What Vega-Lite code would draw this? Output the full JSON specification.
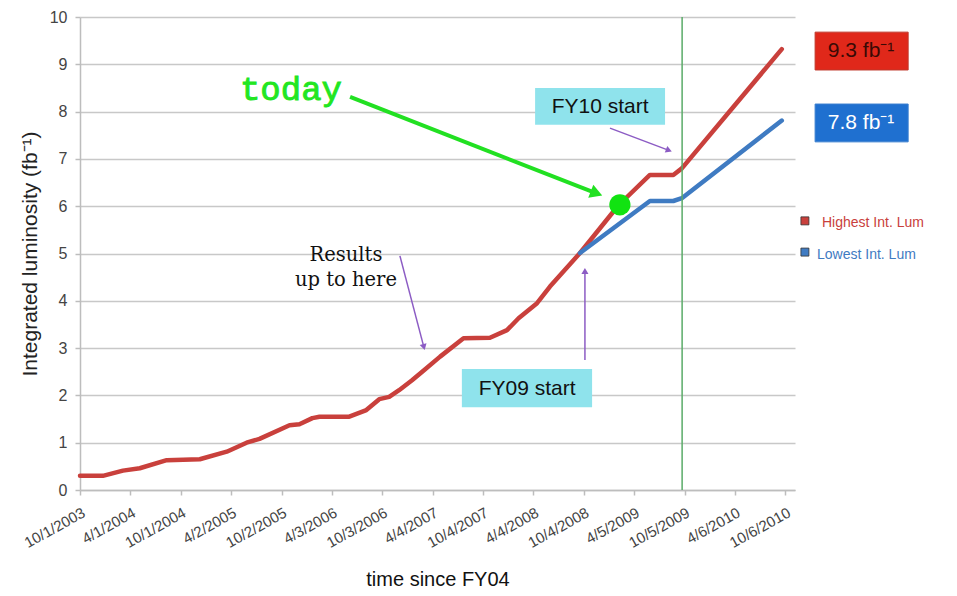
{
  "$schema": "https://vega.github.io/schema/vega-lite/v6.json",
  "width": 715,
  "height": 473,
  "autosize": {"type": "none"},
  "padding": {"left": 80, "top": 17, "right": 162, "bottom": 106},
  "background": "white",
  "config": {
    "view": {"stroke": null},
    "font": "Liberation Sans",
    "text": {"font": "Liberation Sans"}
  },
  "datasets": {
    "lum": [
      {"d": "2003-10-01", "v": 0.30, "s": "Highest Int. Lum"},
      {"d": "2003-12-23", "v": 0.30, "s": "Highest Int. Lum"},
      {"d": "2004-03-05", "v": 0.41, "s": "Highest Int. Lum"},
      {"d": "2004-05-05", "v": 0.46, "s": "Highest Int. Lum"},
      {"d": "2004-08-11", "v": 0.63, "s": "Highest Int. Lum"},
      {"d": "2004-12-09", "v": 0.65, "s": "Highest Int. Lum"},
      {"d": "2005-03-17", "v": 0.81, "s": "Highest Int. Lum"},
      {"d": "2005-05-28", "v": 1.00, "s": "Highest Int. Lum"},
      {"d": "2005-07-14", "v": 1.08, "s": "Highest Int. Lum"},
      {"d": "2005-10-31", "v": 1.37, "s": "Highest Int. Lum"},
      {"d": "2005-12-06", "v": 1.39, "s": "Highest Int. Lum"},
      {"d": "2006-01-22", "v": 1.52, "s": "Highest Int. Lum"},
      {"d": "2006-02-17", "v": 1.55, "s": "Highest Int. Lum"},
      {"d": "2006-06-05", "v": 1.55, "s": "Highest Int. Lum"},
      {"d": "2006-08-06", "v": 1.69, "s": "Highest Int. Lum"},
      {"d": "2006-09-22", "v": 1.92, "s": "Highest Int. Lum"},
      {"d": "2006-10-28", "v": 1.97, "s": "Highest Int. Lum"},
      {"d": "2006-12-03", "v": 2.11, "s": "Highest Int. Lum"},
      {"d": "2007-01-19", "v": 2.32, "s": "Highest Int. Lum"},
      {"d": "2007-02-25", "v": 2.50, "s": "Highest Int. Lum"},
      {"d": "2007-05-01", "v": 2.82, "s": "Highest Int. Lum"},
      {"d": "2007-07-25", "v": 3.21, "s": "Highest Int. Lum"},
      {"d": "2007-10-29", "v": 3.22, "s": "Highest Int. Lum"},
      {"d": "2007-12-30", "v": 3.38, "s": "Highest Int. Lum"},
      {"d": "2008-02-10", "v": 3.63, "s": "Highest Int. Lum"},
      {"d": "2008-04-17", "v": 3.95, "s": "Highest Int. Lum"},
      {"d": "2008-06-03", "v": 4.30, "s": "Highest Int. Lum"},
      {"d": "2008-09-20", "v": 5.01, "s": "Highest Int. Lum"},
      {"d": "2009-02-07", "v": 6.02, "s": "Highest Int. Lum"},
      {"d": "2009-06-01", "v": 6.66, "s": "Highest Int. Lum"},
      {"d": "2009-08-25", "v": 6.66, "s": "Highest Int. Lum"},
      {"d": "2009-09-25", "v": 6.80, "s": "Highest Int. Lum"},
      {"d": "2010-09-23", "v": 9.32, "s": "Highest Int. Lum"},
      {"d": "2008-09-20", "v": 5.01, "s": "Lowest Int. Lum"},
      {"d": "2009-06-01", "v": 6.11, "s": "Lowest Int. Lum"},
      {"d": "2009-08-25", "v": 6.11, "s": "Lowest Int. Lum"},
      {"d": "2009-09-25", "v": 6.17, "s": "Lowest Int. Lum"},
      {"d": "2010-09-23", "v": 7.81, "s": "Lowest Int. Lum"}
    ]
  },
  "encoding": {
    "x": {
      "field": "d",
      "type": "temporal",
      "scale": {
        "type": "utc",
        "domain": [
          {"year": 2003, "month": 10, "date": 1, "utc": true},
          {"year": 2010, "month": 11, "date": 10, "utc": true}
        ],
        "nice": false
      },
      "axis": {
        "title": "time since FY04",
        "titleFont": "Liberation Sans",
        "titleFontSize": 20,
        "titleFontWeight": "normal",
        "titleColor": "#111111",
        "titlePadding": 19,
        "values": [
          {"year": 2003, "month": 10, "date": 1, "utc": true},
          {"year": 2004, "month": 4, "date": 1, "utc": true},
          {"year": 2004, "month": 10, "date": 1, "utc": true},
          {"year": 2005, "month": 4, "date": 2, "utc": true},
          {"year": 2005, "month": 10, "date": 2, "utc": true},
          {"year": 2006, "month": 4, "date": 3, "utc": true},
          {"year": 2006, "month": 10, "date": 3, "utc": true},
          {"year": 2007, "month": 4, "date": 4, "utc": true},
          {"year": 2007, "month": 10, "date": 4, "utc": true},
          {"year": 2008, "month": 4, "date": 4, "utc": true},
          {"year": 2008, "month": 10, "date": 4, "utc": true},
          {"year": 2009, "month": 4, "date": 5, "utc": true},
          {"year": 2009, "month": 10, "date": 5, "utc": true},
          {"year": 2010, "month": 4, "date": 6, "utc": true},
          {"year": 2010, "month": 10, "date": 6, "utc": true}
        ],
        "labelExpr": "utcFormat(datum.value, '%-m/%-d/%Y')",
        "labelAngle": -29,
        "labelAlign": "right",
        "labelBaseline": "top",
        "labelFontSize": 15,
        "labelColor": "#444444",
        "labelPadding": 10,
        "labelOverlap": false,
        "labelFlush": false,
        "grid": false,
        "domainColor": "#bdbdbd",
        "domainWidth": 1.5,
        "tickColor": "#bdbdbd",
        "tickWidth": 1.5,
        "tickSize": 5
      }
    },
    "y": {
      "field": "v",
      "type": "quantitative",
      "scale": {"domain": [0, 10], "nice": false},
      "axis": {
        "title": "Integrated luminosity (fb⁻¹)",
        "titleFont": "Liberation Sans",
        "titleFontSize": 21,
        "titleFontWeight": "normal",
        "titleColor": "#222222",
        "titlePadding": 9,
        "values": [0, 1, 2, 3, 4, 5, 6, 7, 8, 9, 10],
        "labelFontSize": 16,
        "labelColor": "#444444",
        "labelPadding": 8,
        "grid": true,
        "gridColor": "#c8c8c8",
        "gridWidth": 1.5,
        "domainColor": "#bdbdbd",
        "domainWidth": 1.5,
        "tickColor": "#bdbdbd",
        "tickWidth": 1.5,
        "tickSize": 5
      }
    }
  },
  "layer": [
    {
      "data": {"name": "lum"},
      "mark": {"type": "line", "strokeWidth": 4.5, "strokeJoin": "round", "strokeCap": "round"},
      "encoding": {
        "color": {
          "field": "s",
          "type": "nominal",
          "scale": {"domain": ["Highest Int. Lum", "Lowest Int. Lum"], "range": ["#c9403c", "#3f7bc2"]},
          "legend": null
        }
      }
    },
    {
      "data": {"values": [{"d": "2009-09-26", "v": 0, "v2": 10}]},
      "mark": {"type": "rule", "color": "#5aab68", "strokeWidth": 1.5},
      "encoding": {"y2": {"field": "v2"}}
    },
    {
      "data": {"values": [
        {"d": "2008-04-10", "d2": "2009-07-26", "v": 8.50, "v2": 7.72},
        {"d": "2007-07-19", "d2": "2008-11-03", "v": 2.56, "v2": 1.75}
      ]},
      "mark": {"type": "rect", "color": "#8fe3ec"},
      "encoding": {"x2": {"field": "d2"}, "y2": {"field": "v2"}}
    },
    {
      "data": {"values": [
        {"d": "2008-12-02", "v": 8.10, "t": "FY10 start"},
        {"d": "2008-03-12", "v": 2.14, "t": "FY09 start"}
      ]},
      "mark": {"type": "text", "fontSize": 21, "color": "#111111", "align": "center", "baseline": "middle", "font": "Liberation Sans"},
      "encoding": {"text": {"field": "t"}}
    },
    {
      "data": {"values": [
        {"d": "2006-12-06", "v": 4.95, "d2": "2007-03-03", "v2": 3.02},
        {"d": "2009-01-07", "v": 7.65, "d2": "2009-08-09", "v2": 7.18},
        {"d": "2008-10-08", "v": 2.75, "d2": "2008-10-08", "v2": 4.63}
      ]},
      "mark": {"type": "rule", "color": "#8c5cc4", "strokeWidth": 1.5},
      "encoding": {"x2": {"field": "d2"}, "y2": {"field": "v2"}}
    },
    {
      "data": {"values": [{"d": "2007-03-03", "v": 3.02}]},
      "mark": {"type": "point", "shape": "triangle-right", "angle": 75, "filled": true, "color": "#8c5cc4", "size": 50, "opacity": 1}
    },
    {
      "data": {"values": [{"d": "2009-08-09", "v": 7.18}]},
      "mark": {"type": "point", "shape": "triangle-right", "angle": 21, "filled": true, "color": "#8c5cc4", "size": 50, "opacity": 1}
    },
    {
      "data": {"values": [{"d": "2008-10-08", "v": 4.63}]},
      "mark": {"type": "point", "shape": "triangle-up", "filled": true, "color": "#8c5cc4", "size": 50, "opacity": 1}
    },
    {
      "data": {"values": [{"d": "2006-06-08", "v": 8.31, "d2": "2008-11-19", "v2": 6.27}]},
      "mark": {"type": "rule", "color": "#22e022", "strokeWidth": 4},
      "encoding": {"x2": {"field": "d2"}, "y2": {"field": "v2"}}
    },
    {
      "data": {"values": [{"d": "2008-11-19", "v": 6.27}]},
      "mark": {"type": "point", "shape": "triangle-right", "angle": 21, "filled": true, "color": "#22e022", "size": 200, "opacity": 1}
    },
    {
      "data": {"values": [{"d": "2009-02-12", "v": 6.03}]},
      "mark": {"type": "point", "shape": "circle", "filled": true, "color": "#11e311", "size": 450, "opacity": 1}
    },
    {
      "data": {"values": [{"d": "2005-05-04", "v": 8.25, "t": "today"}]},
      "mark": {"type": "text", "font": "Liberation Mono", "fontWeight": "normal", "fontSize": 34, "color": "#22e622", "stroke": "#22e622", "strokeWidth": 0.9, "align": "left", "baseline": "alphabetic"},
      "encoding": {"text": {"field": "t"}}
    },
    {
      "data": {"values": [
        {"d": "2006-05-24", "v": 4.84, "t": "Results"},
        {"d": "2006-05-24", "v": 4.31, "t": "up to here"}
      ]},
      "mark": {"type": "text", "font": "DejaVu Serif", "fontSize": 19.5, "color": "#111111", "align": "center", "baseline": "alphabetic"},
      "encoding": {"text": {"field": "t"}}
    },
    {
      "data": {"values": [{"d": "2011-01-22", "d2": "2011-12-26", "v": 9.68, "v2": 8.88}]},
      "mark": {"type": "rect", "color": "#e0281a", "stroke": "#c0392b", "strokeWidth": 1},
      "encoding": {"x2": {"field": "d2"}, "y2": {"field": "v2"}}
    },
    {
      "data": {"values": [{"d": "2011-01-22", "d2": "2011-12-26", "v": 8.16, "v2": 7.36}]},
      "mark": {"type": "rect", "color": "#1f70d0", "stroke": "#3a7fcf", "strokeWidth": 1},
      "encoding": {"x2": {"field": "d2"}, "y2": {"field": "v2"}}
    },
    {
      "data": {"values": [{"d": "2011-07-08", "v": 9.28, "t": "9.3 fb⁻¹"}]},
      "mark": {"type": "text", "fontSize": 21, "color": "#3a0a05", "align": "center", "baseline": "middle"},
      "encoding": {"text": {"field": "t"}}
    },
    {
      "data": {"values": [{"d": "2011-07-08", "v": 7.76, "t": "7.8 fb⁻¹"}]},
      "mark": {"type": "text", "fontSize": 21, "color": "#ffffff", "align": "center", "baseline": "middle"},
      "encoding": {"text": {"field": "t"}}
    },
    {
      "data": {"values": [
        {"d": "2010-12-16", "v": 5.69, "s": "Highest Int. Lum"},
        {"d": "2010-12-16", "v": 5.03, "s": "Lowest Int. Lum"}
      ]},
      "mark": {"type": "point", "shape": "square", "filled": true, "size": 64, "opacity": 1, "stroke": "#333333", "strokeWidth": 0.8},
      "encoding": {"color": {"field": "s", "type": "nominal", "legend": null}}
    },
    {
      "data": {"values": [
        {"d": "2011-02-16", "v": 5.64, "s": "Highest Int. Lum"},
        {"d": "2011-01-29", "v": 4.97, "s": "Lowest Int. Lum"}
      ]},
      "mark": {"type": "text", "fontSize": 14, "align": "left", "baseline": "middle"},
      "encoding": {
        "text": {"field": "s"},
        "color": {"field": "s", "type": "nominal", "legend": null}
      }
    }
  ]
}
